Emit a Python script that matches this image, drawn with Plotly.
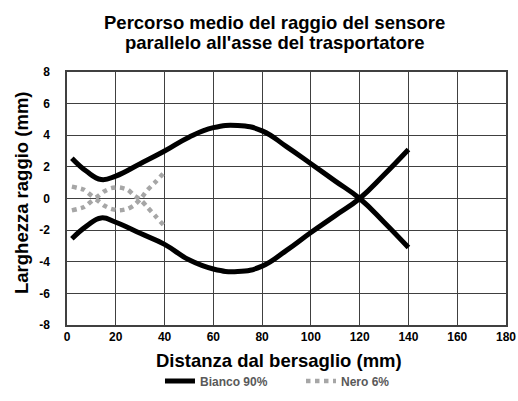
import plotly.graph_objects as go

# Bianco 90% (two beam edges)
bianco_x = [2, 8, 14, 20, 30, 40, 50, 60, 70, 80, 90, 100, 110, 120, 130, 140]
bianco_upper = [2.55, 1.72, 1.2, 1.42, 2.2, 3.0, 3.88, 4.48, 4.62, 4.28, 3.28, 2.2, 1.1, 0.0, -1.5, -3.1]
bianco_lower = [-2.55, -1.75, -1.23, -1.5, -2.2, -2.9, -3.88, -4.46, -4.62, -4.28, -3.28, -2.15, -1.08, 0.0, 1.5, 3.1]

# Nero 6% (two beam edges)
nero_x = [2, 7, 11.5, 15, 18, 21.5, 25, 27.5, 30.3, 33, 36.5, 40]
nero_upper = [0.75, 0.55, 0.05, 0.43, 0.65, 0.7, 0.55, 0.2, -0.1, -0.55, -1.15, -1.75]
nero_lower = [-0.75, -0.54, -0.05, -0.43, -0.65, -0.75, -0.65, -0.43, 0.0, 0.54, 1.08, 1.68]

x_ticks = [0, 20, 40, 60, 80, 100, 120, 140, 160, 180]
y_ticks = [-8, -6, -4, -2, 0, 2, 4, 6, 8]

title_lines = ["Percorso medio del raggio del sensore", "parallelo all'asse del trasportatore"]
x_title = "Distanza dal bersaglio (mm)"
y_title = "Larghezza raggio (mm)"

FONT = "Liberation Sans, Arial, sans-serif"
W, H = 518, 401
ML, MR, MT, MB = 67, 12, 72, 76

fig = go.Figure()
fig.add_trace(go.Scatter(x=bianco_x, y=bianco_upper, mode="lines", name="<b>Bianco 90%</b>",
                         legendgroup="b", line=dict(color="black", width=5, shape="spline", smoothing=1.3)))
fig.add_trace(go.Scatter(x=bianco_x, y=bianco_lower, mode="lines", name="Bianco 90%",
                         legendgroup="b", showlegend=False,
                         line=dict(color="black", width=5, shape="spline", smoothing=1.3)))
fig.add_trace(go.Scatter(x=nero_x, y=nero_upper, mode="lines", name="<b>Nero 6%</b>",
                         legendgroup="n", line=dict(color="#a6a6a6", width=4.5, dash="dot", shape="spline", smoothing=0.6)))
fig.add_trace(go.Scatter(x=nero_x, y=nero_lower, mode="lines", name="Nero 6%",
                         legendgroup="n", showlegend=False,
                         line=dict(color="#a6a6a6", width=4.5, dash="dot", shape="spline", smoothing=0.6)))

fig.update_layout(
    width=W, height=H,
    margin=dict(l=ML, r=MR, t=MT, b=MB, autoexpand=False),
    paper_bgcolor="white", plot_bgcolor="white",
    font=dict(family=FONT, color="black"),
    legend=dict(orientation="h", x=0.533, xanchor="center", y=-0.164, yanchor="top",
                font=dict(size=12, color="#595959", family=FONT), itemwidth=30,
                entrywidth=96, traceorder="normal"),
    showlegend=True,
)
plot_w, plot_h = W - ML - MR, H - MT - MB
def px_to_paper_x(px):
    return (px - ML) / plot_w
def px_to_paper_y(py):
    return (H - MB - py) / plot_h

fig.add_annotation(text=f"<b>{title_lines[0]}</b>", x=px_to_paper_x(274.5), y=px_to_paper_y(22.5),
                   xref="paper", yref="paper", xanchor="center", yanchor="middle", showarrow=False,
                   font=dict(size=18.5, color="black"))
fig.add_annotation(text=f"<b>{title_lines[1]}</b>", x=px_to_paper_x(274.5), y=px_to_paper_y(42),
                   xref="paper", yref="paper", xanchor="center", yanchor="middle", showarrow=False,
                   font=dict(size=18.5, color="black"))
fig.add_annotation(text=f"<b>{x_title}</b>", x=px_to_paper_x(279), y=px_to_paper_y(360),
                   xref="paper", yref="paper", xanchor="center", yanchor="middle", showarrow=False,
                   font=dict(size=18.5, color="black"))
fig.add_annotation(text=f"<b>{y_title}</b>", x=px_to_paper_x(21), y=px_to_paper_y(193),
                   xref="paper", yref="paper", xanchor="center", yanchor="middle", showarrow=False,
                   textangle=-90, font=dict(size=18.5, color="black"))

fig.update_xaxes(range=[0, 180], tickvals=x_ticks, ticktext=[f"<b>{v}</b>" for v in x_ticks],
                 showgrid=True, gridcolor="#404040", gridwidth=1, zeroline=False, automargin=False,
                 showline=True, linecolor="#404040", linewidth=1.5, mirror=True,
                 tickfont=dict(size=12, color="black"), ticks="")
fig.update_yaxes(range=[-8, 8], tickvals=y_ticks, ticktext=[f"<b>{v}</b>" for v in y_ticks],
                 showgrid=True, gridcolor="#404040", gridwidth=1, zeroline=False, automargin=False,
                 showline=True, linecolor="#404040", linewidth=1.5, mirror=True,
                 tickfont=dict(size=12, color="black"), ticks="", ticklabelstandoff=13)

fig.write_html("out.html", config={"displayModeBar": False},
               post_script="document.body.style.margin='0';document.body.style.overflow='hidden';")
